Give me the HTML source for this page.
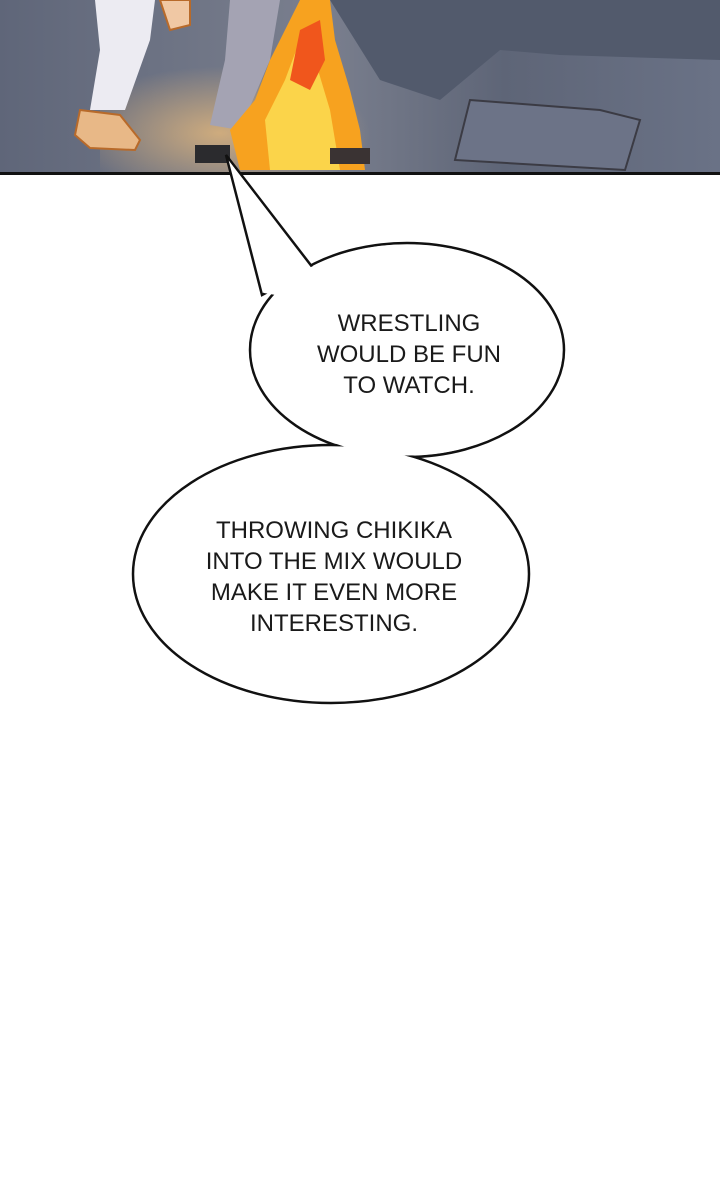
<!DOCTYPE html>
<html><head><style>
html,body{margin:0;padding:0;background:#fff;}
svg{display:block;}
text{font-family:"Liberation Sans",sans-serif;font-size:24px;fill:#1a1a1a;text-anchor:middle;}
</style></head><body>
<svg width="720" height="1202" viewBox="0 0 720 1202" xmlns="http://www.w3.org/2000/svg">
<defs>
<linearGradient id="bg" x1="0" y1="0" x2="1" y2="0">
<stop offset="0" stop-color="#5f6679"/><stop offset="0.45" stop-color="#7a7f8e"/><stop offset="0.7" stop-color="#5e6577"/><stop offset="1" stop-color="#6a7286"/>
</linearGradient>
<radialGradient id="glow" cx="0.4" cy="0.7" r="0.5">
<stop offset="0" stop-color="#f6c27a" stop-opacity="0.7"/><stop offset="1" stop-color="#f6c27a" stop-opacity="0"/>
</radialGradient>
</defs>
<rect x="0" y="0" width="720" height="173" fill="url(#bg)"/>
<rect x="100" y="40" width="300" height="133" fill="url(#glow)"/>
<path d="M330 0 L720 0 L720 60 L560 55 L500 50 L440 100 L380 80 Z" fill="#525a6c"/>
<path d="M470 100 L600 110 L640 120 L625 170 L455 160 Z" fill="#6c7387" stroke="#3b3b44" stroke-width="2"/>
<path d="M95 0 L155 0 L150 40 L125 110 L90 110 L100 50 Z" fill="#ecebf2"/>
<path d="M80 110 L120 115 L140 140 L135 150 L90 148 L75 135 Z" fill="#e8b887" stroke="#b86a2a" stroke-width="2"/>
<path d="M160 0 L190 0 L190 25 L170 30 Z" fill="#f0c8a4" stroke="#b86a2a" stroke-width="2"/>
<path d="M230 0 L280 0 L270 60 L240 130 L210 125 L225 60 Z" fill="#a4a3b3"/>
<path d="M240 170 L230 130 L255 100 L270 60 L290 20 L300 0 L330 0 L335 40 L350 90 L360 130 L365 170 Z" fill="#f7a21f"/>
<path d="M270 170 L265 120 L285 80 L300 40 L315 60 L330 110 L340 170 Z" fill="#fbd44a"/>
<path d="M290 80 L300 30 L320 20 L325 60 L310 90 Z" fill="#f0561c"/>
<rect x="195" y="145" width="35" height="18" fill="#2b2b2e"/>
<rect x="330" y="148" width="40" height="16" fill="#3a3333"/>
<rect x="0" y="172" width="720" height="3" fill="#111"/>
<g stroke="#111" stroke-width="2.5" fill="#fff">
<ellipse cx="407" cy="350" rx="157" ry="107"/>
<ellipse cx="331" cy="574" rx="198" ry="129"/>
<path d="M226 155 L313 268 L262 295 Z"/>
</g>
<g fill="#fff">
<ellipse cx="407" cy="350" rx="155.5" ry="105.5"/>
<ellipse cx="331" cy="574" rx="196.5" ry="127.5"/>
<path d="M229 161 L311 268 L305 300 L264 293 Z"/>
</g>
<text x="409" y="331">WRESTLING</text>
<text x="409" y="362">WOULD BE FUN</text>
<text x="409" y="393">TO WATCH.</text>
<text x="334" y="538">THROWING CHIKIKA</text>
<text x="334" y="569">INTO THE MIX WOULD</text>
<text x="334" y="600">MAKE IT EVEN MORE</text>
<text x="334" y="631">INTERESTING.</text>
</svg>
</body></html>
